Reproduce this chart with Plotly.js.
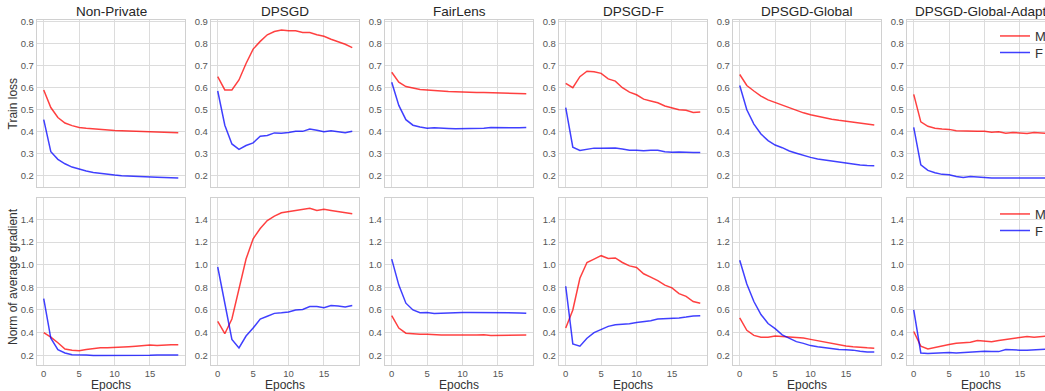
<!DOCTYPE html>
<html><head><meta charset="utf-8">
<script src="https://cdn.plot.ly/plotly-3.0.1.min.js"></script>
<style>html,body{margin:0;padding:0;overflow:hidden;background:#fff}#chart{width:1060px;height:391px}</style>
</head><body><div id="chart"></div><script>
const epochs = [0,1,2,3,4,5,6,7,8,9,10,11,12,13,14,15,16,17,18,19];
const methods = ['Non-Private','DPSGD','FairLens','DPSGD-F','DPSGD-Global','DPSGD-Global-Adapt'];
const groupNames = ['M','F'];
const xTicks = [0,5,10,15];
const lossTicks = [0.2,0.3,0.4,0.5,0.6,0.7,0.8,0.9];
const gradTicks = [0.2,0.4,0.6,0.8,1.0,1.2,1.4];

// Train loss
const lossM_NonPrivate = [0.59,0.51,0.465,0.44,0.428,0.42,0.416,0.413,0.41,0.408,0.406,0.405,0.404,0.402,0.401,0.400,0.399,0.398,0.397,0.396];
const lossF_NonPrivate = [0.455,0.31,0.275,0.255,0.24,0.23,0.222,0.216,0.211,0.207,0.204,0.201,0.199,0.197,0.196,0.195,0.194,0.193,0.192,0.191];
const lossM_DPSGD = [0.65,0.59,0.59,0.635,0.71,0.775,0.81,0.84,0.855,0.862,0.858,0.858,0.85,0.85,0.84,0.833,0.82,0.81,0.797,0.782];
const lossF_DPSGD = [0.585,0.43,0.345,0.32,0.338,0.35,0.38,0.383,0.395,0.393,0.397,0.402,0.402,0.413,0.407,0.400,0.405,0.400,0.396,0.403];
const lossM_FairLens = [0.67,0.625,0.605,0.597,0.592,0.59,0.587,0.585,0.583,0.582,0.58,0.579,0.578,0.578,0.577,0.577,0.576,0.575,0.574,0.573];
const lossF_FairLens = [0.625,0.52,0.455,0.43,0.422,0.416,0.418,0.415,0.415,0.414,0.414,0.414,0.415,0.416,0.419,0.418,0.416,0.418,0.418,0.42];
const lossM_DPSGDF = [0.62,0.60,0.65,0.675,0.672,0.665,0.64,0.63,0.60,0.58,0.568,0.548,0.54,0.532,0.517,0.51,0.50,0.498,0.488,0.49];
const lossF_DPSGDF = [0.51,0.33,0.315,0.322,0.326,0.325,0.327,0.327,0.322,0.316,0.316,0.314,0.316,0.316,0.31,0.307,0.308,0.306,0.306,0.306];
const lossM_Global = [0.66,0.61,0.585,0.562,0.545,0.533,0.52,0.508,0.497,0.486,0.477,0.47,0.462,0.457,0.452,0.448,0.443,0.439,0.435,0.431];
const lossF_Global = [0.61,0.50,0.435,0.39,0.36,0.34,0.328,0.313,0.303,0.293,0.284,0.277,0.272,0.27,0.263,0.257,0.254,0.25,0.247,0.246];
const lossM_Adapt = [0.57,0.445,0.425,0.416,0.413,0.411,0.405,0.404,0.4,0.402,0.402,0.398,0.4,0.394,0.397,0.393,0.392,0.397,0.395,0.393];
const lossF_Adapt = [0.42,0.25,0.225,0.214,0.207,0.205,0.197,0.193,0.197,0.196,0.193,0.19,0.19,0.19,0.188,0.19,0.188,0.187,0.19,0.19];

// Norm of average gradient
const gradM_NonPrivate = [0.40,0.36,0.31,0.255,0.245,0.24,0.25,0.258,0.266,0.265,0.27,0.277,0.276,0.28,0.285,0.29,0.285,0.29,0.293,0.293];
const gradF_NonPrivate = [0.70,0.35,0.25,0.22,0.205,0.205,0.202,0.198,0.198,0.196,0.195,0.197,0.198,0.199,0.2,0.2,0.203,0.204,0.204,0.203];
const gradM_DPSGD = [0.50,0.39,0.52,0.80,1.05,1.23,1.32,1.39,1.43,1.46,1.47,1.48,1.49,1.50,1.48,1.49,1.48,1.47,1.465,1.45];
const gradF_DPSGD = [0.98,0.65,0.34,0.265,0.37,0.44,0.52,0.545,0.57,0.575,0.583,0.60,0.605,0.63,0.63,0.62,0.64,0.635,0.627,0.64];
const gradM_FairLens = [0.55,0.44,0.395,0.388,0.385,0.385,0.38,0.378,0.378,0.38,0.38,0.378,0.378,0.38,0.375,0.375,0.377,0.373,0.378,0.378];
const gradF_FairLens = [1.05,0.82,0.66,0.60,0.575,0.577,0.568,0.572,0.572,0.578,0.578,0.578,0.578,0.576,0.576,0.576,0.574,0.573,0.574,0.57];
const gradM_DPSGDF = [0.44,0.60,0.88,1.02,1.05,1.08,1.055,1.06,1.02,0.99,0.975,0.92,0.89,0.86,0.82,0.795,0.745,0.72,0.675,0.66];
const gradF_DPSGDF = [0.81,0.30,0.28,0.35,0.40,0.43,0.455,0.47,0.475,0.478,0.49,0.495,0.505,0.52,0.522,0.527,0.53,0.537,0.547,0.548];
const gradM_Global = [0.53,0.42,0.375,0.36,0.358,0.37,0.365,0.36,0.355,0.353,0.34,0.328,0.315,0.30,0.29,0.282,0.275,0.268,0.265,0.262];
const gradF_Global = [1.04,0.83,0.675,0.56,0.48,0.435,0.38,0.35,0.32,0.305,0.285,0.275,0.267,0.255,0.25,0.248,0.245,0.235,0.228,0.228];
const gradM_Adapt = [0.41,0.28,0.255,0.27,0.285,0.295,0.305,0.313,0.315,0.33,0.325,0.32,0.33,0.34,0.35,0.36,0.365,0.36,0.365,0.37];
const gradF_Adapt = [0.60,0.22,0.215,0.22,0.225,0.225,0.22,0.225,0.23,0.23,0.235,0.232,0.232,0.25,0.245,0.245,0.245,0.248,0.25,0.255];

const lossRows = [[lossM_NonPrivate,lossF_NonPrivate],[lossM_DPSGD,lossF_DPSGD],[lossM_FairLens,lossF_FairLens],[lossM_DPSGDF,lossF_DPSGDF],[lossM_Global,lossF_Global],[lossM_Adapt,lossF_Adapt]];
const gradRows = [[gradM_NonPrivate,gradF_NonPrivate],[gradM_DPSGD,gradF_DPSGD],[gradM_FairLens,gradF_FairLens],[gradM_DPSGDF,gradF_DPSGDF],[gradM_Global,gradF_Global],[gradM_Adapt,gradF_Adapt]];

const W = 1060, H = 391;
const colors = ['rgba(255,0,0,0.75)','rgba(0,0,255,0.75)'];
const rowsPx = [[20,186.5],[198,364.5]];
const FONT = 'Liberation Sans, Arial, sans-serif';
const traces = [];
function legendAt(topPx) {
  return {x: 995/W, y: 1-topPx/H, xanchor:'left', yanchor:'top', bgcolor:'rgba(0,0,0,0)',
          borderwidth: 0, font:{size:13, color:'#333', family: FONT}};
}
const layout = {
  width: W, height: H,
  margin: {l:0,r:0,t:0,b:0},
  paper_bgcolor: '#ffffff', plot_bgcolor: '#ffffff',
  font: {family: FONT, color: '#555555', size: 10},
  showlegend: true,
  annotations: [],
  legend: legendAt(21),
  legend2: legendAt(37.5),
  legend3: legendAt(199),
  legend4: legendAt(215.5)
};
const legendIds = [['legend','legend2'],['legend3','legend4']];

for (let r = 0; r < 2; r++) {
  const data = r === 0 ? lossRows : gradRows;
  for (let i = 0; i < 6; i++) {
    const k = r*6 + i + 1;
    const left = 37 + 174*i;
    const xa = 'xaxis' + (k===1?'':k), ya = 'yaxis' + (k===1?'':k);
    const xr = 'x' + (k===1?'':k), yr = 'y' + (k===1?'':k);
    layout[xa] = {
      domain: [left/W, (left+148)/W], anchor: yr, range: [-0.95, 19.95],
      tickvals: xTicks, showticklabels: r === 1, ticks: '',
      showgrid: true, gridcolor: '#dcdcdc', gridwidth: 1, zeroline: false,
      showline: true, mirror: true, linecolor: '#d0d0d0', linewidth: 1.2,
      tickfont: {size: 9.5, color: '#555'}
    };
    layout[ya] = {
      domain: [1-rowsPx[r][1]/H, 1-rowsPx[r][0]/H], anchor: xr,
      range: r === 0 ? [0.152, 0.907] : [0.118, 1.59],
      tickvals: r === 0 ? lossTicks : gradTicks, tickformat: '.1f', ticks: '',
      showgrid: true, gridcolor: '#dcdcdc', gridwidth: 1, zeroline: false,
      showline: true, mirror: true, linecolor: '#d0d0d0', linewidth: 1.2,
      tickfont: {size: 9.5, color: '#555'}
    };
    for (let g = 0; g < 2; g++) {
      traces.push({
        type: 'scatter', mode: 'lines', x: epochs, y: data[i][g], name: groupNames[g],
        xaxis: xr, yaxis: yr, line: {color: colors[g], width: 1.5},
        showlegend: i === 5, legend: legendIds[r][g], hoverinfo: 'skip'
      });
    }
    if (r === 0) {
      layout.annotations.push({text: methods[i], xref:'paper', yref:'paper', x:(left+74)/W, y:1-12/H,
        xanchor:'center', yanchor:'middle', showarrow:false, font:{size:13.5, color:'#262626', family: FONT}});
    } else {
      layout.annotations.push({text: 'Epochs', xref:'paper', yref:'paper', x:(left+74)/W, y:1-384.5/H,
        xanchor:'center', yanchor:'middle', showarrow:false, font:{size:12, color:'#333', family: FONT}});
    }
  }
}
layout.annotations.push({text:'Train loss', xref:'paper', yref:'paper', x:13/W, y:1-103.5/H, textangle:-90,
  xanchor:'center', yanchor:'middle', showarrow:false, font:{size:12, color:'#333', family: FONT}});
layout.annotations.push({text:'Norm of average gradient', xref:'paper', yref:'paper', x:13/W, y:1-277/H, textangle:-90,
  xanchor:'center', yanchor:'middle', showarrow:false, font:{size:12, color:'#333', family: FONT}});

Plotly.newPlot('chart', traces, layout, {displayModeBar: false, staticPlot: true});
</script></body></html>
